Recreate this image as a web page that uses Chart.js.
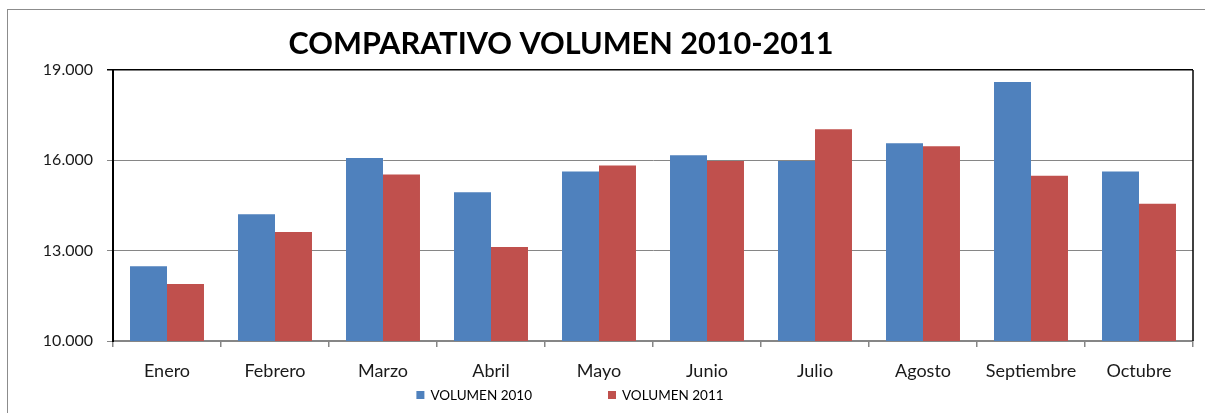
<!DOCTYPE html>
<html><head><meta charset="utf-8">
<script src="https://cdn.jsdelivr.net/npm/chart.js@4/dist/chart.umd.min.js"></script>
<style>
html,body{margin:0;padding:0;background:#fff;overflow:hidden}
#frame{position:absolute;left:7px;top:9px;width:1400px;height:600px;border-left:1px solid #8c8c8c;border-top:1px solid #8c8c8c}
#wrap{position:absolute;left:0;top:0;width:1205px;height:413px}
</style></head><body>
<div id="frame"></div>
<div id="wrap"><canvas id="c" width="1205" height="413"></canvas></div>
<script>
const chartTitle = 'COMPARATIVO VOLUMEN 2010-2011';
const categories = ['Enero','Febrero','Marzo','Abril','Mayo','Junio','Julio','Agosto','Septiembre','Octubre'];
const seriesNames = ['VOLUMEN 2010','VOLUMEN 2011'];
const volumen2010 = [12480,14210,16080,14940,15630,16170,15980,16570,18600,15630];
const volumen2011 = [11890,13620,15530,13120,15830,15980,17030,16470,15490,14560];
const yTicks = [10000,13000,16000,19000];
const seriesColors = ['#4F81BD','#C0504D'];

const FONT = 'Lato';

const decor = {
  id: 'decor',
  afterDraw(chart) {
    const ctx = chart.ctx, a = chart.chartArea;
    ctx.save();
    // right border of plot
    ctx.strokeStyle = '#000'; ctx.lineWidth = 1.5;
    ctx.beginPath(); ctx.moveTo(a.right, a.top); ctx.lineTo(a.right, a.bottom); ctx.stroke();
    // title
    ctx.fillStyle = '#000';
    ctx.font = 'bold 30.6px ' + FONT;
    ctx.textAlign = 'center'; ctx.textBaseline = 'middle';
    ctx.fillText(chartTitle, 561, 44);
    // legend
    ctx.font = '13.5px ' + FONT;
    ctx.textAlign = 'left';
    const box = 8, gap = 6, spacing = 76;
    const w = chart.data.datasets.map(d => ctx.measureText(d.label).width);
    const total = w.reduce((s, x) => s + box + gap + x, 0) + spacing * (w.length - 1);
    let x = 570 - total / 2;
    const y = 395;
    chart.data.datasets.forEach((d, i) => {
      ctx.fillStyle = d.backgroundColor;
      ctx.fillRect(x, y - box / 2, box, box);
      ctx.fillStyle = '#000';
      ctx.fillText(d.label, x + box + gap, y + 1);
      x += box + gap + w[i] + spacing;
    });
    ctx.restore();
  }
};

new Chart(document.getElementById('c'), {
  type: 'bar',
  data: {
    labels: categories,
    datasets: [
      { label: seriesNames[0], data: volumen2010, backgroundColor: seriesColors[0] },
      { label: seriesNames[1], data: volumen2011, backgroundColor: seriesColors[1] }
    ]
  },
  options: {
    responsive: false,
    animation: false,
    devicePixelRatio: 1,
    layout: { padding: { left: 0, right: 12, top: 70, bottom: 0 } },
    plugins: { legend: { display: false }, title: { display: false }, tooltip: { enabled: false } },
    datasets: { bar: { categoryPercentage: 0.685, barPercentage: 1.0 } },
    scales: {
      x: {
        afterFit(s) { s.height = 72; },
        grid: { drawOnChartArea: false, offset: true, tickLength: 6, color: '#868686', lineWidth: 1.5 },
        border: { color: '#868686', width: 2 },
        ticks: { color: '#1a1a1a', font: { family: FONT, size: 18 }, padding: 13 }
      },
      y: {
        min: 10000, max: 19000,
        afterFit(s) { s.width = 113; },
        afterBuildTicks(s) { s.ticks = yTicks.map(v => ({ value: v })); },
        grid: {
          color: c => (c.tick && c.tick.value === 19000) ? '#000' : '#868686',
          lineWidth: c => (c.tick && c.tick.value === 19000) ? 1.5 : 1,
          tickLength: 6
        },
        border: { color: '#000', width: 2 },
        ticks: {
          color: '#1a1a1a', padding: 14,
          font: { family: FONT, size: 16 },
          callback: v => v.toLocaleString('de-DE')
        }
      }
    }
  },
  plugins: [decor]
});
</script>
</body></html>
